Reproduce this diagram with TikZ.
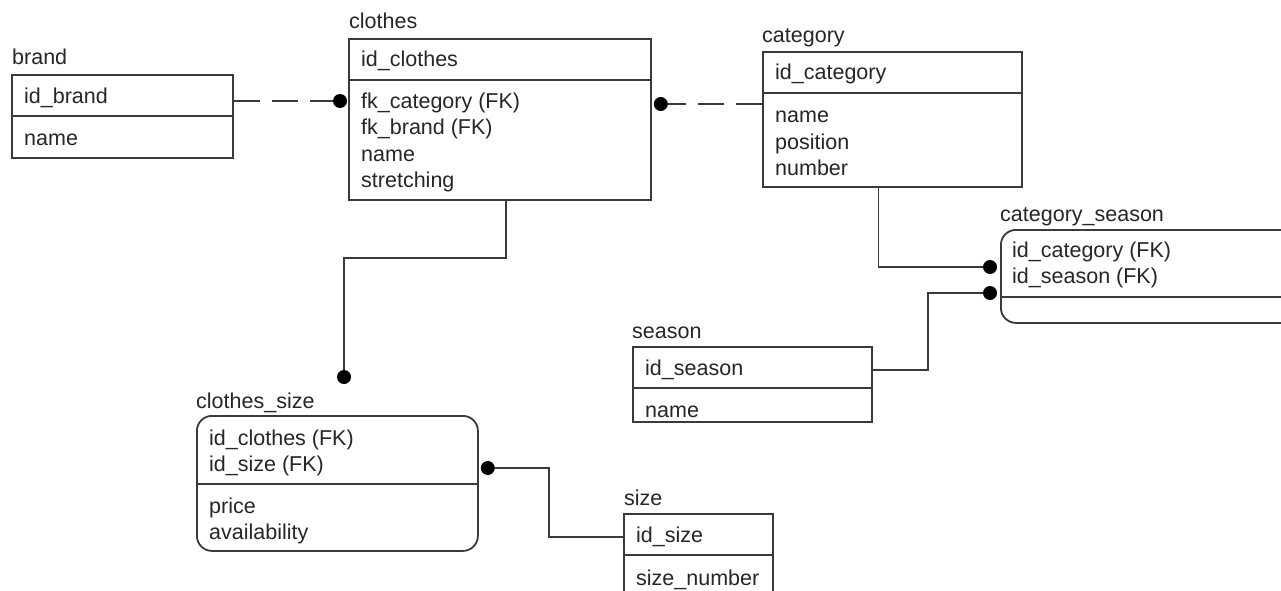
\documentclass[tikz,border=0pt]{standalone}
\usepackage{fontspec}
\setmainfont{Liberation Sans}
\usepackage{tikz}
\usetikzlibrary{positioning, calc}
\definecolor{edgedraw}{HTML}{3A3A3A}
\definecolor{txtcol}{HTML}{262626}
\tikzset{
  ent/.style={rectangle, draw=edgedraw, line width=1.8pt, anchor=north west, inner sep=0pt},
  link/.style={ent, rounded corners=15pt},
  tname/.style={anchor=base west, inner sep=0pt, font=\fontsize{21.5}{26}\selectfont, text=txtcol},
  fld/.style={tname},
  sep/.style={draw=edgedraw, line width=1.8pt},
  rel/.style={draw=edgedraw, line width=1.8pt},
  reldash/.style={rel, dash pattern=on 26pt off 12pt},
  dot/.style={circle, fill=black, inner sep=0pt, minimum size=14pt},
}

\begin{document}
\begin{tikzpicture}[x=1pt, y=-1pt]
  \useasboundingbox[fill=white] (0,0) rectangle (1281,591);
  \node[ent, minimum width=221, minimum height=83] (brand) at (11,74) {};
  \node[ent, minimum width=302, minimum height=161] (clothes) at (348,38) {};
  \node[ent, minimum width=259, minimum height=135] (category) at (762,51) {};
  \node[link, minimum width=300, minimum height=93] (catseason) at (1000,229) {};
  \node[ent, minimum width=239, minimum height=75] (season) at (632,346) {};
  \node[link, minimum width=281, minimum height=135] (clothsize) at (196,415) {};
  \node[ent, minimum width=149, minimum height=100] (size) at (623,513) {};
  \foreach \e/\h in {brand/42, clothes/42, category/42, catseason/68, season/42, clothsize/69, size/42}
    \draw[sep] ([yshift=-\h pt]\e.north west) -- ([yshift=-\h pt]\e.north east);

  \node[tname] (brand-t) at (12,65) {brand};
  \node[fld] (brand-k) at (24,103) {id\_brand};
  \node[fld] (brand-a) at (24,145) {name};

  \node[tname] (clothes-t) at (349,29) {clothes};
  \node[fld] (clothes-k) at (361,67) {id\_clothes};
  \foreach \f [count=\i from 0] in {fk\_category (FK), fk\_brand (FK), name, stretching}
    \node[fld] (clothes-a\i) at (361,109+26*\i) {\f};

  \node[tname] (category-t) at (762,43) {category};
  \node[fld] (category-k) at (775,80) {id\_category};
  \foreach \f [count=\i from 0] in {name, position, number}
    \node[fld] (category-a\i) at (775,123+26*\i) {\f};

  \node[tname] (catseason-t) at (1000,221) {category\_season};
  \node[fld] (catseason-k0) at (1012,257) {id\_category (FK)};
  \node[fld] (catseason-k1) at (1012,283) {id\_season (FK)};

  \node[tname] (season-t) at (632,338) {season};
  \node[fld] (season-k) at (645,375) {id\_season};
  \node[fld] (season-a) at (645,417) {name};

  \node[tname] (clothsize-t) at (196,408) {clothes\_size};
  \node[fld] (clothsize-k0) at (209,445) {id\_clothes (FK)};
  \node[fld] (clothsize-k1) at (209,471) {id\_size (FK)};
  \node[fld] (clothsize-a0) at (209,513) {price};
  \node[fld] (clothsize-a1) at (209,539) {availability};

  \node[tname] (size-t) at (624,505) {size};
  \node[fld] (size-k) at (636,542) {id\_size};
  \node[fld] (size-a) at (636,585) {size\_number};

  \node[dot] (dot-brand) at ([xshift=-8pt,yshift=-63pt]clothes.north west) {};
  \node[dot] (dot-category) at ([xshift=9pt,yshift=-66pt]clothes.north east) {};
  \node[dot] (dot-clothes) at ([xshift=148pt,yshift=38pt]clothsize.north west) {};
  \node[dot] (dot-size) at ([xshift=9pt,yshift=-53pt]clothsize.north east) {};
  \node[dot] (dot-catseason) at ([xshift=-10pt,yshift=-38pt]catseason.north west) {};
  \node[dot] (dot-season) at ([xshift=-10pt,yshift=-64pt]catseason.north west) {};

  \draw[reldash] ([yshift=-27pt]brand.north east) -- (dot-brand);
  \draw[reldash] ([yshift=-53pt]category.north west) -- (dot-category);
  \draw[rel] ([xshift=6pt]clothes.south) -- ++(0,57) -| (dot-clothes);
  \draw[rel] ([xshift=-14pt]category.south) |- (dot-catseason);
  \draw[rel] ([yshift=-24pt]season.north east) -- ++(55,0) |- (dot-season);
  \draw[rel] ([yshift=-24pt]size.north west) -- ++(-74,0) |- (dot-size);
\end{tikzpicture}
\end{document}
